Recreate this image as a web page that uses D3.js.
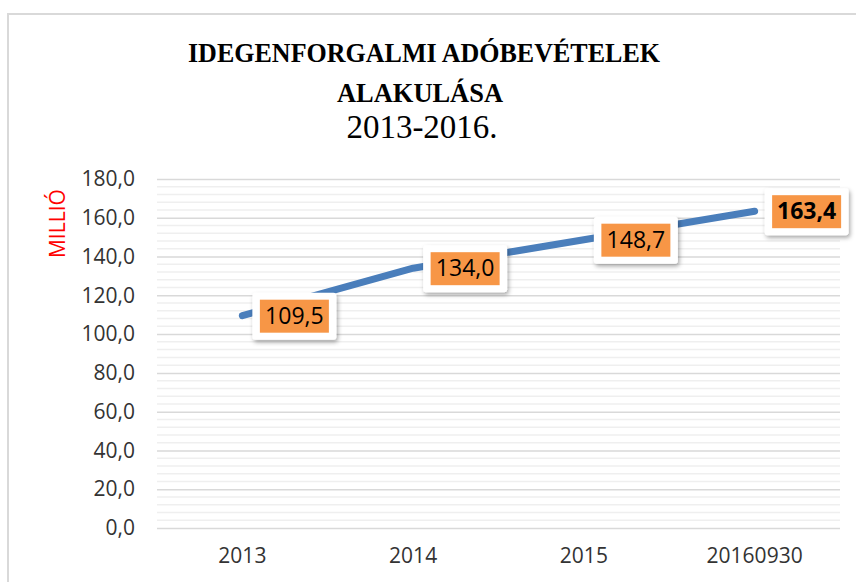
<!DOCTYPE html>
<html lang="hu">
<head>
<meta charset="UTF-8">
<title>Idegenforgalmi adóbevételek alakulása</title>
<script src="https://d3js.org/d3.v7.min.js"></script>
<style>
    body { margin: 0; background: #fff; }
    svg { display: block; }
</style>
</head>
<body>
<svg id="chart" width="856" height="582"></svg>
<script>
    const categories = ["2013", "2014", "2015", "20160930"];
    const values = [109.5, 134.0, 148.7, 163.4];
    const yTicks = [0, 20, 40, 60, 80, 100, 120, 140, 160, 180];
    const minorTicks = d3.range(0, 181, 4);

    const width = 856, height = 582;
    const margin = {top: 179, right: 16, bottom: 54, left: 157};
    const fmt = v => d3.format(".1f")(v).replace(".", ",");

    const svg = d3.select("#chart");

    const defs = svg.append("defs");
    const shadow = defs.append("filter").attr("id", "shadow")
        .attr("x", "-20%").attr("y", "-20%").attr("width", "150%").attr("height", "160%");
    shadow.append("feDropShadow")
        .attr("dx", 1.5).attr("dy", 2.5).attr("stdDeviation", 2)
        .attr("flood-color", "#000").attr("flood-opacity", 0.35);

    // chart frame
    svg.append("rect")
        .attr("x", 8).attr("y", 14)
        .attr("width", 900).attr("height", 700)
        .attr("fill", "#fff")
        .attr("stroke", "#d9d9d9")
        .attr("stroke-width", 2);

    const x = d3.scaleBand()
        .domain(categories)
        .range([margin.left, width - margin.right]);

    const y = d3.scaleLinear()
        .domain([0, 180])
        .range([height - margin.bottom, margin.top]);

    // minor gridlines
    svg.append("g")
        .selectAll("line")
        .data(minorTicks.filter(d => d % 20 !== 0))
        .enter()
        .append("line")
        .attr("x1", margin.left).attr("x2", width - margin.right)
        .attr("y1", d => y(d)).attr("y2", d => y(d))
        .attr("stroke", "#efefef")
        .attr("stroke-width", 1.5);

    // y axis with major gridlines
    const yAxis = d3.axisLeft(y)
        .tickValues(yTicks)
        .tickFormat(fmt)
        .tickSize(-(width - margin.left - margin.right))
        .tickPadding(22);

    const gy = svg.append("g")
        .attr("transform", `translate(${margin.left},0)`)
        .call(yAxis);
    gy.select(".domain").remove();
    gy.selectAll(".tick line").attr("stroke", "#d9d9d9").attr("stroke-width", 1.5);
    gy.selectAll(".tick text")
        .attr("fill", "#333")
        .style("font-family", "'Open Sans', sans-serif")
        .style("font-size", "21px");

    // x axis
    const xAxis = d3.axisBottom(x).tickSize(0).tickPadding(20);
    const gx = svg.append("g")
        .attr("transform", `translate(0,${height - margin.bottom})`)
        .call(xAxis);
    gx.select(".domain").remove();
    gx.selectAll(".tick text")
        .attr("fill", "#333")
        .style("font-family", "'Open Sans', sans-serif")
        .style("font-size", "21px");

    // y axis title
    svg.append("text")
        .attr("transform", `translate(65,${y(157)}) rotate(-90)`)
        .attr("text-anchor", "middle")
        .attr("fill", "#ff0000")
        .style("font-family", "'Open Sans', sans-serif")
        .style("font-size", "21px")
        .text("MILLIÓ");

    // line
    const line = d3.line()
        .x((d, i) => x(categories[i]) + x.bandwidth() / 2)
        .y(d => y(d));

    svg.append("path")
        .datum(values)
        .attr("fill", "none")
        .attr("stroke", "#4a7ebb")
        .attr("stroke-width", 7)
        .attr("stroke-linecap", "round")
        .attr("stroke-linejoin", "round")
        .attr("d", line);

    // data labels
    const labels = svg.append("g")
        .selectAll("g")
        .data(values)
        .enter()
        .append("g")
        .attr("transform", (d, i) => `translate(${x(categories[i]) + x.bandwidth() / 2 + 52},${y(d)})`);

    labels.append("rect")
        .attr("x", -42).attr("y", -23)
        .attr("width", 84).attr("height", 47)
        .attr("rx", 3)
        .attr("fill", "#fff")
        .attr("filter", "url(#shadow)");

    labels.append("rect")
        .attr("x", -34.5).attr("y", -16)
        .attr("width", 69).attr("height", 33)
        .attr("fill", "#f79646");

    labels.append("text")
        .attr("text-anchor", "middle")
        .attr("dy", "0.36em")
        .attr("fill", "#000")
        .style("font-family", "'Open Sans', sans-serif")
        .style("font-size", "23px")
        .style("font-weight", (d, i) => i === values.length - 1 ? "bold" : "normal")
        .text(fmt);

    // title
    const titleFont = "'Liberation Serif', serif";
    svg.append("text")
        .attr("x", 424).attr("y", 62)
        .attr("text-anchor", "middle")
        .attr("textLength", 472)
        .attr("lengthAdjust", "spacingAndGlyphs")
        .style("font-family", titleFont)
        .style("font-weight", "bold").style("font-size", "28px")
        .text("IDEGENFORGALMI ADÓBEVÉTELEK");
    svg.append("text")
        .attr("x", 420).attr("y", 102)
        .attr("text-anchor", "middle")
        .attr("textLength", 166)
        .attr("lengthAdjust", "spacingAndGlyphs")
        .style("font-family", titleFont)
        .style("font-weight", "bold").style("font-size", "28px")
        .text("ALAKULÁSA");
    svg.append("text")
        .attr("x", 422).attr("y", 138)
        .attr("text-anchor", "middle")
        .style("font-family", titleFont)
        .style("font-size", "33px")
        .text("2013-2016.");
</script>
</body>
</html>
